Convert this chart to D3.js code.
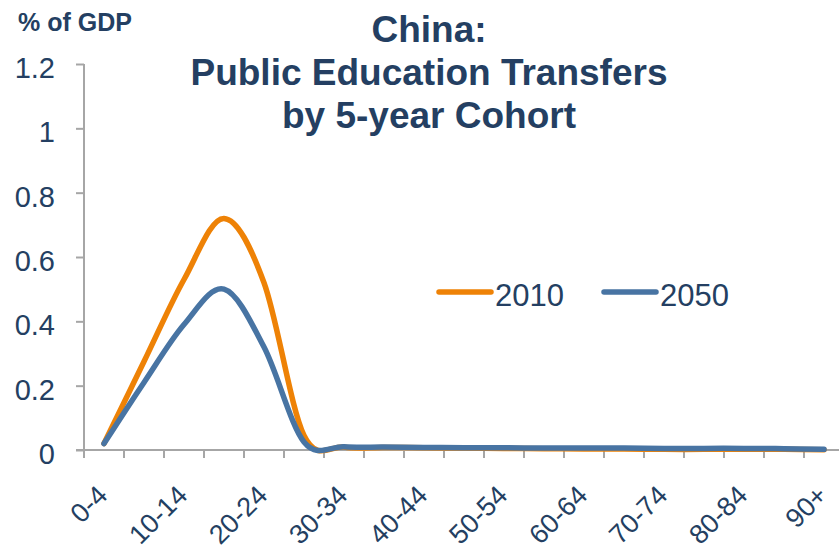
<!DOCTYPE html>
<html>
<head>
<meta charset="utf-8">
<script src="https://cdn.jsdelivr.net/npm/d3@7"></script>
<style>
  body { margin: 0; background: #fff; }
  text { font-family: "Liberation Sans", Arial, sans-serif; }
</style>
</head>
<body>
<div id="chart"></div>
<script>
var cohorts = ["0-4", "5-9", "10-14", "15-19", "20-24", "25-29", "30-34", "35-39", "40-44",
	"45-49", "50-54", "55-59", "60-64", "65-69", "70-74", "75-79", "80-84", "85-89", "90+"];
var v2010 = [0.02, 0.275, 0.53, 0.72, 0.52, 0.045, 0.009, 0.008, 0.007, 0.006, 0.005,
	0.004, 0.003, 0.003, 0.002, 0.002, 0.002, 0.002, 0.001];
var v2050 = [0.02, 0.21, 0.39, 0.50, 0.32, 0.025, 0.01, 0.009, 0.008, 0.007, 0.007,
	0.006, 0.006, 0.006, 0.005, 0.005, 0.005, 0.004, 0.002];
var yTicks = [0, 0.2, 0.4, 0.6, 0.8, 1, 1.2];
var shownLabels = ["0-4", "10-14", "20-24", "30-34", "40-44", "50-54", "60-64", "70-74", "80-84", "90+"];
var series = [
	{name: "2010", values: v2010, color: "#EE8206"},
	{name: "2050", values: v2050, color: "#4874A3"}
];

var W = 839, H = 549;
var navy = "#243F62";
var axisGrey = "#A6A6A6";

var svg = d3.select("#chart").append("svg").attr("width", W).attr("height", H);

var x = d3.scaleBand().domain(cohorts).range([84, 844]).paddingInner(0).paddingOuter(0);
var y = d3.scaleLinear().domain([0, 1.2]).range([450, 64]);

// y axis
var yAxis = d3.axisLeft(y).tickValues(yTicks).tickSize(8).tickPadding(21).tickFormat(d3.format(""));
var gy = svg.append("g").attr("transform", "translate(84,0)").call(yAxis);
gy.select(".domain").attr("stroke", axisGrey).attr("stroke-width", 2).attr("d", "M0," + y(1.2) + "V" + y(0));
gy.selectAll(".tick line").attr("stroke", axisGrey).attr("stroke-width", 2);
gy.selectAll(".tick text").attr("fill", navy).attr("font-size", 29).attr("dy", "0.47em")
	.style("font-family", "'Liberation Sans', Arial, sans-serif");

// x axis: ticks on band boundaries
var gx = svg.append("g");
gx.append("line").attr("x1", x.range()[0] - 8).attr("x2", x.range()[1])
	.attr("y1", y(0)).attr("y2", y(0)).attr("stroke", axisGrey).attr("stroke-width", 2);
gx.selectAll("line.tk").data(cohorts).enter().append("line").attr("class", "tk")
	.attr("x1", function (d) { return x(d); }).attr("x2", function (d) { return x(d); })
	.attr("y1", y(0)).attr("y2", y(0) + 8)
	.attr("stroke", axisGrey).attr("stroke-width", 2);
gx.selectAll("text").data(shownLabels).enter().append("text")
	.attr("transform", function (d) {
		return "translate(" + (x(d) + x.bandwidth() / 2 + 5) + "," + (y(0) + 47) + ") rotate(-45)";
	})
	.attr("text-anchor", "end")
	.attr("fill", navy).attr("font-size", 27)
	.text(function (d) { return d; });

// lines
var line = d3.line()
	.x(function (d, i) { return x(cohorts[i]) + x.bandwidth() / 2; })
	.y(function (d) { return y(d); })
	.curve(d3.curveCardinal.tension(0));

svg.selectAll("path.series").data(series).enter().append("path")
	.attr("class", "series")
	.attr("d", function (s) { return line(s.values); })
	.attr("fill", "none")
	.attr("stroke", function (s) { return s.color; })
	.attr("stroke-width", 5.5)
	.attr("stroke-linecap", "round")
	.attr("stroke-linejoin", "round");

// legend
var legend = svg.selectAll("g.legend").data(series).enter().append("g")
	.attr("class", "legend")
	.attr("transform", function (s, i) { return "translate(" + (439 + i * 165) + ",292)"; });
legend.append("line").attr("x1", 0).attr("x2", 52).attr("y1", 0).attr("y2", 0)
	.attr("stroke", function (s) { return s.color; })
	.attr("stroke-width", 5.5).attr("stroke-linecap", "round");
legend.append("text").attr("x", 56).attr("y", 14)
	.attr("fill", navy).attr("font-size", 31)
	.text(function (s) { return s.name; });

// titles
var title = ["China:", "Public Education Transfers", "by 5-year Cohort"];
svg.selectAll("text.title").data(title).enter().append("text")
	.attr("class", "title")
	.attr("x", 429).attr("y", function (d, i) { return 42 + i * 43; })
	.attr("text-anchor", "middle").attr("font-weight", "bold").attr("font-size", 37)
	.attr("fill", navy)
	.text(function (d) { return d; });

svg.append("text").attr("x", 18).attr("y", 31)
	.attr("font-weight", "bold").attr("font-size", 25).attr("fill", navy)
	.text("% of GDP");
</script>
</body>
</html>
